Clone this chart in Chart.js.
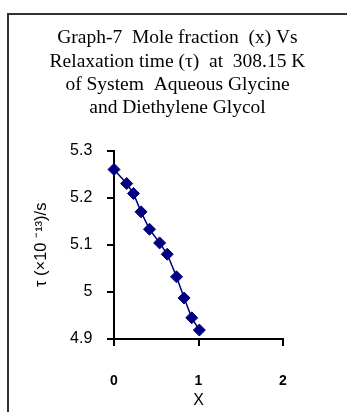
<!DOCTYPE html>
<html>
<head>
<meta charset="utf-8">
<script src="https://cdn.jsdelivr.net/npm/chart.js@4/dist/chart.umd.min.js"></script>
<style>
  html, body { margin: 0; padding: 0; background: #fff; overflow: hidden; }
  #wrap { position: relative; width: 347px; height: 412px; }
  #frame { position: absolute; left: 7px; top: 13px; width: 400px; height: 500px; border: 2px solid #333; box-sizing: border-box; pointer-events: none; }
  canvas { position: absolute; left: 0; top: 0; }
</style>
</head>
<body>
<div id="wrap">
  <canvas id="c" width="347" height="412"></canvas>
  <div id="frame"></div>
</div>
<script>
const titleLines = [
  "Graph-7  Mole fraction  (x) Vs",
  "Relaxation time (\u03C4)  at  308.15 K",
  "of System  Aqueous Glycine",
  "and Diethylene Glycol"
];
const xTitle = "X";
const yTitle = "\u03C4 (\u00D710 \u207B\u00B9\u00B3)/s";
const moleFraction = [0, 0.15, 0.23, 0.32, 0.42, 0.54, 0.63, 0.74, 0.83, 0.92, 1.01];
const relaxTime = [5.260, 5.230, 5.209, 5.170, 5.133, 5.104, 5.080, 5.032, 4.987, 4.945, 4.919];
const xRange = [0, 2];
const yRange = [4.9, 5.3];

const points = moleFraction.map((x, i) => ({ x: x, y: relaxTime[i] }));
const navy = '#000080';

new Chart(document.getElementById('c'), {
  type: 'scatter',
  data: {
    datasets: [{
      data: points,
      showLine: true,
      borderColor: navy,
      backgroundColor: navy,
      borderWidth: 1.5,
      pointStyle: 'rectRot',
      pointRadius: 6,
      pointBorderWidth: 1,
      clip: false
    }]
  },
  options: {
    responsive: false,
    devicePixelRatio: 1,
    animation: false,
    layout: { padding: { left: 8, right: 0, top: 0, bottom: 0 } },
    plugins: {
      legend: { display: false },
      tooltip: { enabled: false },
      title: {
        display: true,
        text: titleLines,
        color: '#000',
        font: { family: 'Liberation Serif', size: 19.5, weight: 'normal', lineHeight: 1.2 },
        padding: { top: 26.4, bottom: 30.6 }
      }
    },
    scales: {
      x: {
        type: 'linear',
        min: xRange[0], max: xRange[1],
        afterFit: s => { s.height = 73; },
        ticks: { stepSize: 1, color: '#000', padding: 27, font: { family: 'Liberation Sans', size: 14, weight: 'bold' } },
        grid: { display: true, drawOnChartArea: false, drawTicks: true, tickLength: 7, color: '#000', lineWidth: 2 },
        border: { display: true, color: '#000', width: 2 },
        title: { display: true, text: xTitle, color: '#000', font: { family: 'Liberation Sans', size: 16 }, padding: { top: 0, bottom: 1.4 } }
      },
      y: {
        type: 'linear',
        min: yRange[0], max: yRange[1],
        afterFit: s => { s.width = 106; },
        ticks: {
          stepSize: 0.1, color: '#000', padding: 14.7,
          font: { family: 'Liberation Sans', size: 16 },
          callback: v => String(Number(v.toFixed(1)))
        },
        grid: { display: true, drawOnChartArea: false, drawTicks: true, tickLength: 7, color: '#000', lineWidth: 2 },
        border: { display: true, color: '#000', width: 2 },
        title: { display: true, text: yTitle, color: '#000', font: { family: 'Liberation Sans', size: 16.5 }, padding: { top: 23.6, bottom: 0 } }
      },
      yRight: {
        type: 'linear',
        position: 'right',
        min: yRange[0], max: yRange[1],
        afterFit: s => { s.width = 64; },
        ticks: { display: false },
        grid: { display: false },
        border: { display: false }
      }
    }
  }
});
</script>
</body>
</html>
